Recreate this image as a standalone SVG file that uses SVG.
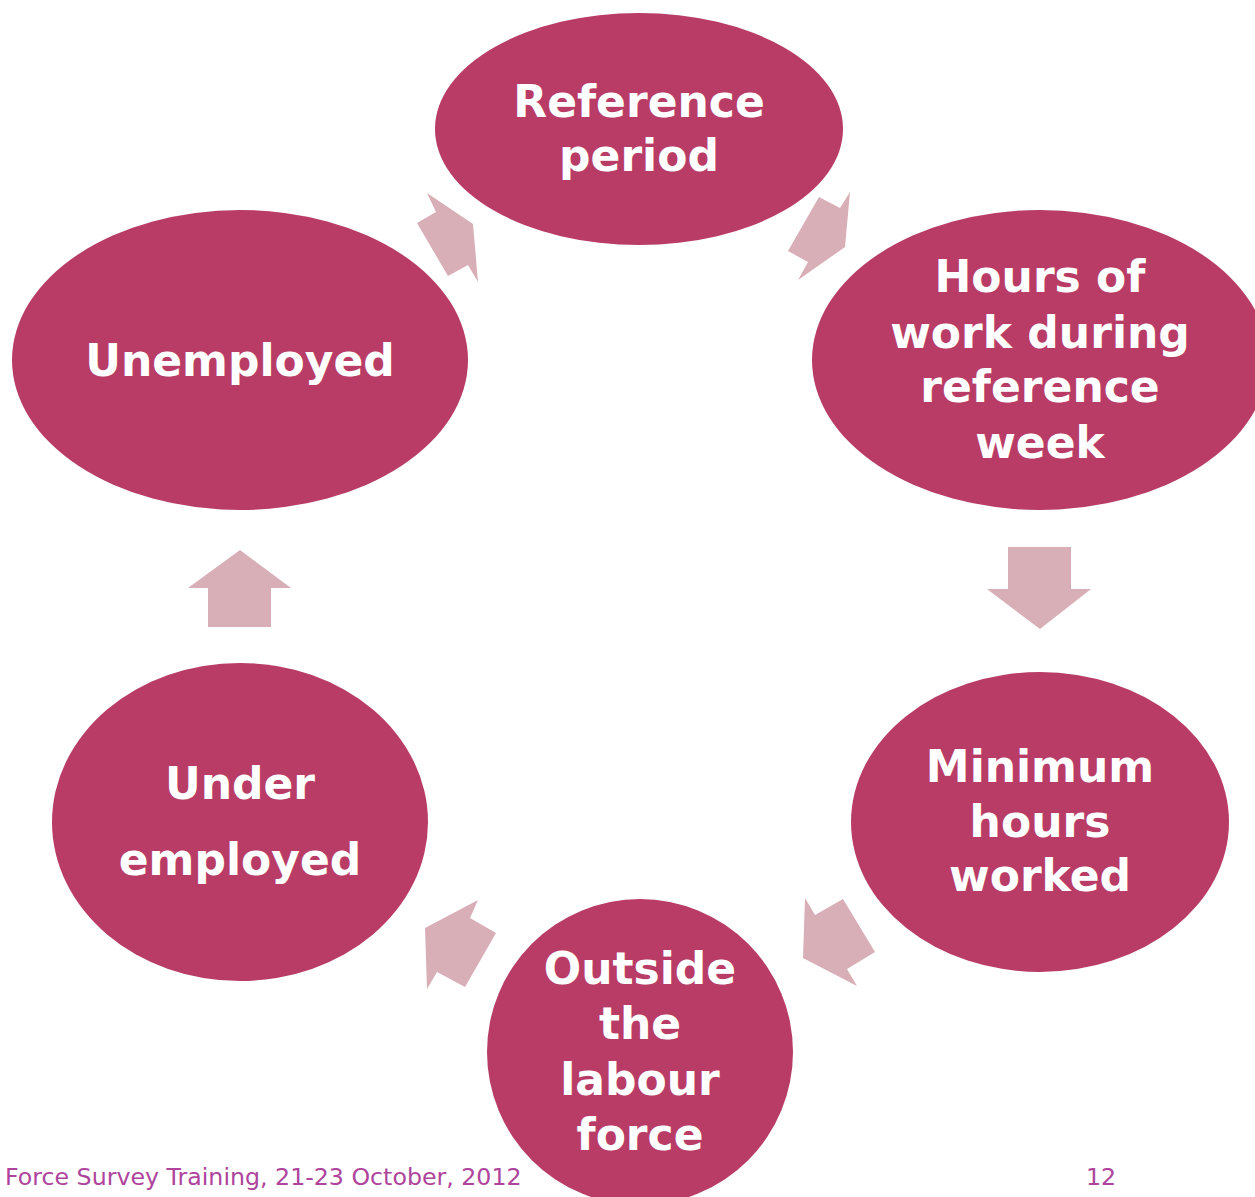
<svg xmlns="http://www.w3.org/2000/svg" width="1255" height="1197" viewBox="0 0 1255 1197">
<style>
.node{fill:#B83C66;}
.lbl{fill:#FFFFFF;font-family:"DejaVu Sans",Verdana,sans-serif;font-weight:bold;font-size:44px;text-anchor:middle;}
.arr{fill:#D8AEB7;}
.foot{fill:#AE449B;font-family:"DejaVu Sans",Verdana,sans-serif;font-size:23.7px;}
</style>
<rect width="1255" height="1197" fill="#FFFFFF"/>
<g id="connectors">
<polygon class="arr" points="427,193 436,212 417,223 448,276 468,265 478,282 473,224"/>
<polygon class="arr" points="850,192 840,208 819,197 788,251 808,262 798,280 845,247"/>
<polygon class="arr" points="1008,547 1071,547 1071,589 1091,589 1040,629 987,589 1008,589"/>
<polygon class="arr" points="805,898 815,915 843,899 875,952 847,969 857,986 803,958"/>
<polygon class="arr" points="478,900 470,918 496,933 465,987 437,972 427,989 425,928"/>
<polygon class="arr" points="240,550 291,588 271,588 271,627 208,627 208,588 188,588"/>
</g>
<g id="node-reference-period">
<ellipse class="node" cx="639" cy="129" rx="204" ry="116"/>
<text class="lbl" x="639" y="117">Reference</text>
<text class="lbl" x="639" y="171">period</text>
</g>
<g id="node-hours-of-work">
<ellipse class="node" cx="1040" cy="360" rx="228" ry="150"/>
<text class="lbl" x="1040" y="292">Hours of</text>
<text class="lbl" x="1040" y="348">work during</text>
<text class="lbl" x="1040" y="402">reference</text>
<text class="lbl" x="1040" y="458">week</text>
</g>
<g id="node-minimum-hours">
<ellipse class="node" cx="1040" cy="822" rx="189" ry="150"/>
<text class="lbl" x="1040" y="782">Minimum</text>
<text class="lbl" x="1040" y="837">hours</text>
<text class="lbl" x="1040" y="891">worked</text>
</g>
<g id="node-outside-labour-force">
<ellipse class="node" cx="640" cy="1052" rx="153" ry="153"/>
<text class="lbl" x="640" y="984">Outside</text>
<text class="lbl" x="640" y="1039">the</text>
<text class="lbl" x="640" y="1095">labour</text>
<text class="lbl" x="640" y="1150">force</text>
</g>
<g id="node-under-employed">
<ellipse class="node" cx="240" cy="822" rx="188" ry="159"/>
<text class="lbl" x="240" y="799">Under</text>
<text class="lbl" x="240" y="875">employed</text>
</g>
<g id="node-unemployed">
<ellipse class="node" cx="240" cy="360" rx="228" ry="150"/>
<text class="lbl" x="240" y="376">Unemployed</text>
</g>
<g id="footer">
<text class="foot" x="5" y="1185">Force Survey Training, 21-23 October, 2012</text>
<text class="foot" x="1086" y="1185">12</text>
</g>
</svg>
